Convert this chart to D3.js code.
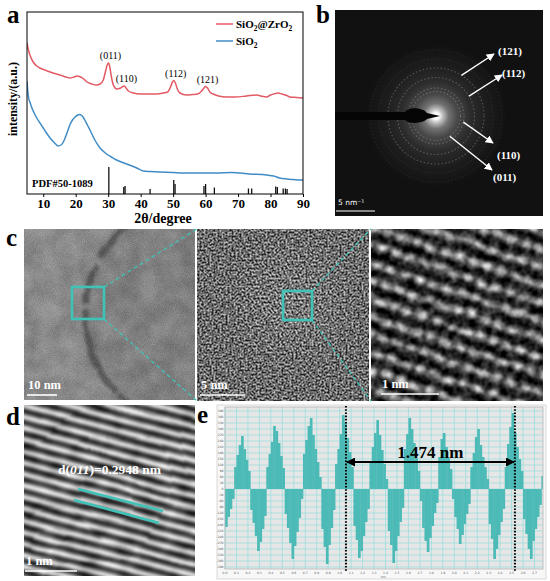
<!DOCTYPE html>
<html>
<head>
<meta charset="utf-8">
<script src="https://cdn.jsdelivr.net/npm/d3@7"></script>
<style>
  body { margin: 0; background: #fff; }
  svg { display: block; }
</style>
</head>
<body>
<svg id="fig" width="550" height="581"></svg>
<script>
// ---------- data: panel a (XRD patterns) ----------
const twoThetaZr = [5.0, 5.3, 5.9, 6.9, 8.0, 9.0, 10.5, 12.1, 13.5, 15.2, 17.0, 18.2, 19.5, 20.5, 21.5,
  22.5, 23.5, 25.0, 26.4, 27.5, 28.5, 29.2, 29.7, 30.1, 30.5, 31.0, 31.6, 32.6, 33.8, 34.5,
  35.0, 35.5, 36.2, 37.7, 40.0, 42.8, 45.0, 47.0, 48.3, 49.2, 49.8, 50.2, 50.7, 51.3, 52.1,
  54.1, 56.0, 57.5, 58.8, 59.5, 60.0, 60.6, 61.3, 62.3, 64.0, 66.4, 69.0, 72.6, 75.7, 77.0,
  78.8, 80.0, 81.0, 82.3, 83.5, 85.0, 86.0, 88.0, 90.0];
const intensityZr = [151, 146, 139, 132, 128, 126, 124, 122, 120.5, 119, 117, 116, 117, 118, 117,
  115, 112, 110, 109, 110, 114, 123, 129, 131, 127, 117, 109, 105, 106, 107.5,
  108, 106, 103, 101, 100, 100, 100, 101, 102, 107, 112, 113.5, 111, 105, 101,
  99, 99.5, 100, 103, 106, 107.5, 106, 102, 100, 98, 97, 97, 98, 99, 98,
  97, 99, 100, 101, 100, 98.5, 97, 96.5, 96];
const twoThetaSi = [5.0, 5.2, 5.5, 6.0, 6.4, 7.2, 8.0, 9.0, 10.0, 11.0, 12.1, 13.5, 14.6, 15.5, 16.2,
  17.2, 18.2, 19.0, 19.8, 20.6, 21.3, 22.0, 22.8, 23.6, 24.4, 25.9, 27.5, 29.5, 31.0, 32.6,
  35.7, 38.8, 40.8, 43.0, 45.9, 50.0, 53.1, 58.0, 63.4, 68.0, 73.6, 78.8, 81.0, 82.8, 85.0,
  87.0, 89.5, 90.0];
const intensitySi = [113, 104, 96, 91, 87, 81, 76, 71, 66, 61, 56, 51, 48, 49, 52,
  60, 69, 74, 77, 79, 79.5, 78, 74, 69, 64, 54, 46, 40, 37, 34,
  30, 26, 23, 22.5, 22, 21.5, 21, 21, 21, 21.5, 20, 19, 18, 16, 15,
  14.5, 14, 14];
const pdfTwoTheta = [30.2, 34.8, 35.2, 42.9, 50.2, 50.6, 59.5, 60.0, 62.7, 73.2, 74.2, 81.6, 82.1, 83.9, 84.6, 85.1];
const pdfIntensity = [27, 7, 8, 5, 14, 10, 8, 10, 6.5, 5.5, 5.5, 7.5, 7, 5.5, 5.5, 5];
const peakNames = ["(011)", "(110)", "(112)", "(121)"];
const peakTwoTheta = [30.1, 35.0, 50.2, 60.0];
const xTicksA = [10, 20, 30, 40, 50, 60, 70, 80, 90];
const seriesNames = ["SiO2@ZrO2", "SiO2"];
const seriesColors = ["#e35a65", "#3f8cc6"];

// ---------- data: panel b (SAED rings) ----------
const ringNames = ["(121)", "(112)", "(110)", "(011)"];
const ringRadius = [48, 38.5, 28, 24.5];
const faintRings = [57, 66];

// ---------- data: panel e (line profile) ----------
const profileStep = 0.02; // nm between samples
const profile = [
  -38, -28, -20, -10,
  22, 34, 44, 53, 40, 29, 18,
  -21, -34, -47, -62, -53, -40, -27,
  22, 35, 47, 63, 58, 46, 33, 21,
  -25, -39, -54, -70, -57, -43, -29, -10,
  35, 49, 63, 71, 54, 40, 27, 12,
  -40, -58, -75, -56, -39, -21,
  25, 40, 55, 74, 66, 51, 37, 22,
  -37, -51, -69, -62, -47, -33, -20,
  28, 42, 56, 69, 54, 39, 25, 10,
  -42, -56, -74, -62, -47, -33, -19,
  40, 55, 71, 60, 46, 31, 18, -12,
  -39, -52, -63, -49, -37, -24, -14,
  32, 50, 56, 42, 31, 20, -10,
  -28, -40, -55, -46, -35, -25, -15,
  22, 36, 52, 60, 44, 32, 22, 10,
  -35, -50, -70, -60, -46, -33, -20,
  22, 45, 62, 76, 56, 42, 30, 18,
  -30, -45, -60, -70, -52, -40, -28, -16,
  13];
const spacingFrom = 1.055; // nm
const spacingTo = 2.529;   // nm
const spacingLabel = "1.474 nm";

// ---------- setup ----------
const serif = "'Liberation Serif', 'Times New Roman', serif";
const svg = d3.select("#fig");
const defs = svg.append("defs");
svg.append("rect").attr("width", 550).attr("height", 581).attr("fill", "#fff");

function clipRect(id, x, y, w, h) {
  defs.append("clipPath").attr("id", id).append("rect")
    .attr("x", x).attr("y", y).attr("width", w).attr("height", h);
  return `url(#${id})`;
}
function grey(gain, bias) {
  return `${gain} 0 0 0 ${bias} ${gain} 0 0 0 ${bias} ${gain} 0 0 0 ${bias} 0 0 0 0 1`;
}
// all filters work in sRGB so grey arithmetic behaves
function newFilter(id, box) {
  const f = defs.append("filter").attr("id", id).attr("color-interpolation-filters", "sRGB");
  if (box) f.attr("x", box[0]).attr("y", box[1]).attr("width", box[2]).attr("height", box[3]);
  return f;
}
function noiseFilter(id, freq, oct, seed, gain, bias) {
  const f = newFilter(id, [0, 0, 1, 1]);
  f.append("feTurbulence").attr("type", "fractalNoise").attr("baseFrequency", freq)
    .attr("numOctaves", oct).attr("seed", seed).attr("result", "t");
  f.append("feColorMatrix").attr("in", "t").attr("type", "matrix").attr("values", grey(gain, bias));
}
function roughFilter(id, scale, blur) {
  const f = newFilter(id, ["-20%", "-20%", "140%", "140%"]);
  f.append("feTurbulence").attr("type", "fractalNoise").attr("baseFrequency", 0.07)
    .attr("numOctaves", 2).attr("seed", 4).attr("result", "n");
  f.append("feDisplacementMap").attr("in", "SourceGraphic").attr("in2", "n").attr("scale", scale)
    .attr("xChannelSelector", "R").attr("yChannelSelector", "G").attr("result", "d");
  f.append("feGaussianBlur").attr("in", "d").attr("stdDeviation", blur);
}
function arrowMarker(id, color, size) {
  defs.append("marker").attr("id", id).attr("viewBox", "0 0 10 10")
    .attr("refX", 9).attr("refY", 5)
    .attr("markerWidth", size).attr("markerHeight", size)
    .attr("markerUnits", "userSpaceOnUse").attr("orient", "auto-start-reverse")
    .append("path").attr("d", "M0,0 L10,5 L0,10 z").attr("fill", color);
}
function panelLetter(ch, x, y) {
  svg.append("text").attr("x", x).attr("y", y)
    .attr("font-family", serif).attr("font-size", 25).attr("font-weight", "bold")
    .text(ch);
}
function scaleBar(x, y, len, label) {
  svg.append("text").attr("x", x + 1).attr("y", y - 6)
    .attr("font-family", serif).attr("font-size", 12.5).attr("font-weight", "bold")
    .attr("fill", "#fff").text(label);
  svg.append("line").attr("x1", x).attr("x2", x + len).attr("y1", y).attr("y2", y)
    .attr("stroke", "#fff").attr("stroke-width", 1.6);
}
// writes a formula with digit subscripts
function chem(sel, str, size) {
  let down = false;
  str.split(/(\d)/).filter(s => s.length).forEach(part => {
    const isSub = /^\d$/.test(part);
    const t = sel.append("tspan").text(part);
    if (isSub) { t.attr("font-size", size * 0.68).attr("dy", down ? 0 : size * 0.25); down = true; }
    else { if (down) t.attr("dy", -size * 0.25); down = false; }
  });
}

arrowMarker("arrW", "#fff", 8);
arrowMarker("arrK", "#000", 9);

// --- PANEL A: XRD ---
const A = { left: 27, right: 303, top: 12, bottom: 194 };
const xA = d3.scaleLinear().domain([5, 90]).range([A.left, A.right]);
const yA = d3.scaleLinear().domain([0, 182]).range([A.bottom, A.top]);
const gA = svg.append("g");
const lineA = d3.line().x(d => xA(d[0])).y(d => yA(d[1])).curve(d3.curveMonotoneX);
const seriesA = [d3.zip(twoThetaZr, intensityZr), d3.zip(twoThetaSi, intensitySi)];

gA.append("g").attr("clip-path", clipRect("clipA", A.left, A.top, A.right - A.left, A.bottom - A.top))
  .selectAll("path").data(seriesA).join("path")
  .attr("d", lineA).attr("fill", "none")
  .attr("stroke", (d, i) => seriesColors[i]).attr("stroke-width", 1.5);

gA.append("g").selectAll("line").data(d3.zip(pdfTwoTheta, pdfIntensity)).join("line")
  .attr("x1", d => xA(d[0])).attr("x2", d => xA(d[0]))
  .attr("y1", yA(0)).attr("y2", d => yA(d[1]))
  .attr("stroke", "#111").attr("stroke-width", 1.3);

gA.append("rect").attr("x", A.left).attr("y", A.top)
  .attr("width", A.right - A.left).attr("height", A.bottom - A.top)
  .attr("fill", "none").attr("stroke", "#000").attr("stroke-width", 1);

gA.append("g").attr("transform", `translate(0,${A.bottom})`)
  .call(d3.axisBottom(xA).tickValues(xTicksA).tickSize(3).tickPadding(2))
  .attr("font-family", serif).attr("font-size", 13).attr("font-weight", "bold")
  .call(g => g.select(".domain").remove())
  .call(g => g.selectAll("line").attr("stroke", "#000"))
  .call(g => g.selectAll("text").attr("fill", "#000"));

gA.append("text").attr("x", 163).attr("y", 223).attr("text-anchor", "middle")
  .attr("font-family", serif).attr("font-size", 14).attr("font-weight", "bold")
  .text("2θ/degree");
gA.append("text").attr("transform", "translate(17,99) rotate(-90)").attr("text-anchor", "middle")
  .attr("font-family", serif).attr("font-size", 12).attr("font-weight", "bold")
  .text("intensity/(a.u.)");

// peak labels sit just above the local maximum of the red pattern
peakNames.forEach((name, i) => {
  const near = seriesA[0].filter(d => Math.abs(d[0] - peakTwoTheta[i]) < 1);
  const top = d3.max(near, d => d[1]);
  gA.append("text").attr("x", xA(peakTwoTheta[i]) + 2).attr("y", yA(top) - 4)
    .attr("text-anchor", "middle").attr("font-family", serif).attr("font-size", 10)
    .text(name);
});

gA.append("text").attr("x", 32).attr("y", 187)
  .attr("font-family", serif).attr("font-size", 10.5).attr("font-weight", "bold")
  .text("PDF#50-1089");

seriesNames.forEach((name, i) => {
  const y = 24 + i * 17;
  gA.append("line").attr("x1", 216).attr("x2", 233).attr("y1", y).attr("y2", y)
    .attr("stroke", seriesColors[i]).attr("stroke-width", 1.5);
  const t = gA.append("text").attr("x", 236).attr("y", y + 4)
    .attr("font-family", serif).attr("font-size", 11).attr("font-weight", "bold");
  chem(t, name, 11);
});
panelLetter("a", 7, 23);

// --- PANEL B: SAED pattern ---
const B = { x: 335, y: 10, w: 208, h: 206, cx: 436, cy: 116 };
const glow = defs.append("radialGradient").attr("id", "glow").attr("gradientUnits", "userSpaceOnUse")
  .attr("cx", B.cx).attr("cy", B.cy).attr("r", 70);
[[0, "#ffffff"], [0.05, "#f6f6f6"], [0.1, "#bdbdbd"], [0.18, "#747474"], [0.3, "#4a4a4a"],
 [0.5, "#2c2c2c"], [0.75, "#1c1c1c"], [1, "#121212"]]
  .forEach(s => glow.append("stop").attr("offset", s[0]).attr("stop-color", s[1]));
const gB = svg.append("g").attr("clip-path", clipRect("clipB", B.x, B.y, B.w, B.h));
gB.append("rect").attr("x", B.x).attr("y", B.y).attr("width", B.w).attr("height", B.h).attr("fill", "#111");
gB.append("circle").attr("cx", B.cx).attr("cy", B.cy).attr("r", 70).attr("fill", "url(#glow)");
gB.selectAll("circle.ring").data(ringRadius.concat(faintRings)).join("circle").attr("class", "ring")
  .attr("cx", B.cx).attr("cy", B.cy).attr("r", d => d)
  .attr("fill", "none").attr("stroke", "#a8a8a8")
  .attr("stroke-opacity", (d, i) => i < ringRadius.length ? 0.42 : 0.12)
  .attr("stroke-width", 1.1).attr("stroke-dasharray", "1.4 2.2");
// beam stopper
gB.append("path")
  .attr("d", `M${B.x - 2},${B.cy - 4} L${B.cx - 31},${B.cy - 4}
    C${B.cx - 28},${B.cy - 9} ${B.cx - 14},${B.cy - 9} ${B.cx - 9},${B.cy - 3}
    L${B.cx + 4},${B.cy} L${B.cx - 9},${B.cy + 3}
    C${B.cx - 14},${B.cy + 8} ${B.cx - 28},${B.cy + 8} ${B.cx - 31},${B.cy + 4}
    L${B.x - 2},${B.cy + 4} Z`)
  .attr("fill", "#050505");

// arrows start on their ring; [angle on ring (deg), end x, end y, label x, label y]
const sadArrows = [[-58, 494, 54, 498, 55], [-31, 502, 75, 502, 77], [12.5, 493, 143, 497, 159], [55.6, 492, 170, 493, 181]];
ringNames.forEach((name, i) => {
  const [ang, ex, ey, lx, ly] = sadArrows[i];
  const a = ang * Math.PI / 180;
  svg.append("line")
    .attr("x1", B.cx + ringRadius[i] * Math.cos(a)).attr("y1", B.cy + ringRadius[i] * Math.sin(a))
    .attr("x2", ex).attr("y2", ey)
    .attr("stroke", "#fff").attr("stroke-width", 1.4).attr("marker-end", "url(#arrW)");
  svg.append("text").attr("x", lx).attr("y", ly)
    .attr("font-family", serif).attr("font-size", 11).attr("font-weight", "bold")
    .attr("fill", "#fff").text(name);
});
svg.append("text").attr("x", 338).attr("y", 205)
  .attr("font-family", "'DejaVu Sans', sans-serif").attr("font-size", 7.5).attr("fill", "#fff")
  .text("5 nm⁻¹");
svg.append("line").attr("x1", 336).attr("x2", 375).attr("y1", 211).attr("y2", 211)
  .attr("stroke", "#fff").attr("stroke-width", 1.2);
panelLetter("b", 316, 23);

// --- PANEL C: TEM / HRTEM images ---
noiseFilter("fineNoise", 1.1, 1, 3, 1.6, -0.3);
noiseFilter("mottle", 0.05, 3, 8, 1.6, -0.3);
roughFilter("rough", 12, 2.2);
roughFilter("edge", 6, 1.6);

const C1 = { x: 24, y: 229, s: 171 }, C2 = { x: 197, y: 229, s: 172 }, C3 = { x: 371, y: 229, s: 172 };

// image 1: particle edge
const g1 = svg.append("g").attr("clip-path", clipRect("clipC1", C1.x, C1.y, C1.s, C1.s));
g1.append("rect").attr("x", C1.x).attr("y", C1.y).attr("width", C1.s).attr("height", C1.s).attr("fill", "#8e8e8e");
g1.append("circle").attr("cx", 196).attr("cy", 314).attr("r", 114).attr("fill", "#818181")
  .attr("filter", "url(#rough)");
g1.append("rect").attr("x", C1.x).attr("y", C1.y).attr("width", C1.s).attr("height", C1.s)
  .attr("filter", "url(#mottle)").attr("opacity", 0.12);
g1.append("circle").attr("cx", 197).attr("cy", 314).attr("r", 112).attr("fill", "none")
  .attr("stroke", "#404040").attr("stroke-width", 6).attr("stroke-dasharray", "90 5 40 8 120 4")
  .attr("opacity", 0.7).attr("filter", "url(#edge)");
g1.append("rect").attr("x", C1.x).attr("y", C1.y).attr("width", C1.s).attr("height", C1.s)
  .attr("filter", "url(#fineNoise)").attr("opacity", 0.12);

// image 2: lattice with speckle
const hr2 = newFilter("hr2", [0, 0, 1, 1]);
hr2.append("feTurbulence").attr("type", "fractalNoise").attr("baseFrequency", 0.5)
  .attr("numOctaves", 2).attr("seed", 11).attr("result", "t");
hr2.append("feColorMatrix").attr("in", "t").attr("type", "matrix").attr("values", grey(2.4, -0.7)).attr("result", "g");
hr2.append("feGaussianBlur").attr("in", "g").attr("stdDeviation", 0.4).attr("result", "gb");
hr2.append("feComposite").attr("in", "SourceGraphic").attr("in2", "gb").attr("operator", "arithmetic")
  .attr("k1", 0).attr("k2", 0.7).attr("k3", 0.6).attr("k4", -0.12);
const lat = defs.append("pattern").attr("id", "lattice2").attr("patternUnits", "userSpaceOnUse")
  .attr("width", 3.8).attr("height", 3.8).attr("patternTransform", "rotate(62)");
lat.append("rect").attr("width", 3.8).attr("height", 3.8).attr("fill", "#3c3c3c");
lat.append("rect").attr("width", 3.8).attr("height", 1.7).attr("fill", "#bdbdbd");
const fade = defs.append("radialGradient").attr("id", "fade2").attr("gradientUnits", "userSpaceOnUse")
  .attr("cx", 292).attr("cy", 300).attr("r", 70);
[[0, "#fff"], [0.5, "#999"], [1, "#000"]].forEach(s => fade.append("stop").attr("offset", s[0]).attr("stop-color", s[1]));
defs.append("mask").attr("id", "mask2").append("rect")
  .attr("x", C2.x).attr("y", C2.y).attr("width", C2.s).attr("height", C2.s).attr("fill", "url(#fade2)");
const g2 = svg.append("g").attr("clip-path", clipRect("clipC2", C2.x, C2.y, C2.s, C2.s))
  .append("g").attr("filter", "url(#hr2)");
g2.append("rect").attr("x", C2.x).attr("y", C2.y).attr("width", C2.s).attr("height", C2.s).attr("fill", "#575757");
g2.append("rect").attr("x", C2.x).attr("y", C2.y).attr("width", C2.s).attr("height", C2.s)
  .attr("fill", "url(#lattice2)").attr("mask", "url(#mask2)").attr("opacity", 0.6);

// image 3: atomic columns
const blobs = defs.append("pattern").attr("id", "blobs").attr("patternUnits", "userSpaceOnUse")
  .attr("width", 15).attr("height", 17).attr("patternTransform", "rotate(19)");
blobs.append("rect").attr("width", 15).attr("height", 17).attr("fill", "#161616");
blobs.append("rect").attr("y", 5).attr("width", 15).attr("height", 7).attr("fill", "#555");
blobs.append("ellipse").attr("cx", 7.5).attr("cy", 8.5).attr("rx", 5.5).attr("ry", 3.4).attr("fill", "#e6e6e6");
const hr3 = newFilter("hr3", [0, 0, 1, 1]);
hr3.append("feTurbulence").attr("type", "fractalNoise").attr("baseFrequency", 0.05)
  .attr("numOctaves", 2).attr("seed", 6).attr("result", "w");
hr3.append("feDisplacementMap").attr("in", "SourceGraphic").attr("in2", "w").attr("scale", 7)
  .attr("xChannelSelector", "R").attr("yChannelSelector", "G").attr("result", "d");
hr3.append("feGaussianBlur").attr("in", "d").attr("stdDeviation", 2.0).attr("result", "b");
hr3.append("feTurbulence").attr("type", "fractalNoise").attr("baseFrequency", 0.13)
  .attr("numOctaves", 2).attr("seed", 7).attr("result", "t");
hr3.append("feColorMatrix").attr("in", "t").attr("type", "matrix").attr("values", grey(1.5, -0.25)).attr("result", "g");
hr3.append("feComposite").attr("in", "b").attr("in2", "g").attr("operator", "arithmetic")
  .attr("k1", 0).attr("k2", 0.95).attr("k3", 0.4).attr("k4", -0.2);
svg.append("g").attr("clip-path", clipRect("clipC3", C3.x, C3.y, C3.s, C3.s))
  .append("rect").attr("x", C3.x - 10).attr("y", C3.y - 10).attr("width", C3.s + 20).attr("height", C3.s + 20)
  .attr("fill", "url(#blobs)").attr("filter", "url(#hr3)");

// zoom boxes and connectors
const cyan = "#3fc3b8";
[[72, 287, 32, C2], [283, 291, 29, C3]].forEach(([bx, by, bs, next]) => {
  svg.append("rect").attr("x", bx).attr("y", by).attr("width", bs).attr("height", bs)
    .attr("fill", "none").attr("stroke", cyan).attr("stroke-width", 2.6);
  [[by, next.y], [by + bs, next.y + next.s]].forEach(([y1, y2]) => {
    svg.append("line").attr("x1", bx + bs).attr("y1", y1).attr("x2", next.x).attr("y2", y2)
      .attr("stroke", cyan).attr("stroke-width", 1.3).attr("stroke-dasharray", "4 3");
  });
});
scaleBar(27, 395, 30, "10 nm");
scaleBar(200, 395, 45, "5 nm");
scaleBar(381, 394, 58, "1 nm");
panelLetter("c", 6, 246);

// --- PANEL D: inverse FFT fringes ---
const D = { x: 24, y: 405, s: 171 };
const fg = defs.append("linearGradient").attr("id", "fringeGrad").attr("x1", 0).attr("y1", 0).attr("x2", 0).attr("y2", 1);
[[0, "#8c8c8c"], [0.1, "#c4c4c4"], [0.22, "#ececec"], [0.34, "#c0c0c0"], [0.46, "#7c7c7c"],
 [0.6, "#333"], [0.72, "#1c1c1c"], [0.86, "#4e4e4e"], [1, "#8c8c8c"]]
  .forEach(s => fg.append("stop").attr("offset", s[0]).attr("stop-color", s[1]));
const fp = defs.append("pattern").attr("id", "fringes").attr("patternUnits", "userSpaceOnUse")
  .attr("width", 400).attr("height", 11).attr("patternTransform", "rotate(14.5)");
fp.append("rect").attr("width", 400).attr("height", 11).attr("fill", "url(#fringeGrad)");
const fr = newFilter("wavy", [0, 0, 1, 1]);
fr.append("feTurbulence").attr("type", "fractalNoise").attr("baseFrequency", 0.014)
  .attr("numOctaves", 1).attr("seed", 5).attr("result", "w");
fr.append("feDisplacementMap").attr("in", "SourceGraphic").attr("in2", "w").attr("scale", 7)
  .attr("xChannelSelector", "R").attr("yChannelSelector", "G").attr("result", "d");
fr.append("feGaussianBlur").attr("in", "d").attr("stdDeviation", 1.1).attr("result", "db");
fr.append("feTurbulence").attr("type", "fractalNoise").attr("baseFrequency", 0.05)
  .attr("numOctaves", 2).attr("seed", 9).attr("result", "t");
fr.append("feColorMatrix").attr("in", "t").attr("type", "matrix").attr("values", grey(1.2, -0.1)).attr("result", "g");
fr.append("feComposite").attr("in", "db").attr("in2", "g").attr("operator", "arithmetic")
  .attr("k1", 0).attr("k2", 1).attr("k3", 0.3).attr("k4", -0.15);
svg.append("g").attr("clip-path", clipRect("clipD", D.x, D.y, D.s, D.s))
  .append("rect").attr("x", D.x - 12).attr("y", D.y - 12).attr("width", D.s + 24).attr("height", D.s + 24)
  .attr("fill", "url(#fringes)").attr("filter", "url(#wavy)");
[[78, 489, 163, 511], [74, 500, 159, 523]].forEach(([x1, y1, x2, y2]) => {
  svg.append("line").attr("x1", x1).attr("y1", y1).attr("x2", x2).attr("y2", y2)
    .attr("stroke", cyan).attr("stroke-width", 2.6);
});
const dt = svg.append("text").attr("x", 58).attr("y", 474)
  .attr("font-family", serif).attr("font-size", 13.5).attr("font-weight", "bold").attr("fill", "#fff");
dt.append("tspan").text("d(");
dt.append("tspan").attr("font-style", "italic").text("011");
dt.append("tspan").text(")=0.2948 nm");
scaleBar(25, 571, 52, "1 nm");
panelLetter("d", 6, 425);

// --- PANEL E: line profile ---
const E = { left: 225, right: 543, top: 407, bottom: 569 };
const xE = d3.scaleLinear().domain([0, 2.774]).range([E.left, E.right]);
const yE = d3.scaleLinear().domain([-80, 82]).range([E.bottom, E.top]);
const gE = svg.append("g");
gE.append("rect").attr("x", 217).attr("y", 405).attr("width", 329).attr("height", 174)
  .attr("fill", "#f7f7f7").attr("stroke", "#d0d0d0").attr("stroke-width", 0.8);
gE.append("rect").attr("x", E.left).attr("y", E.top).attr("width", E.right - E.left).attr("height", E.bottom - E.top)
  .attr("fill", "#e6e6e6");

const yTicksE = d3.range(-78, 82, 6);
const xTicksE = d3.range(28).map(i => i / 10);
gE.append("g").selectAll("line").data(yTicksE).join("line")
  .attr("x1", E.left).attr("x2", E.right).attr("y1", d => yE(d)).attr("y2", d => yE(d))
  .attr("stroke", "#92dcdc").attr("stroke-width", 0.7);
gE.append("g").selectAll("line").data(xTicksE).join("line")
  .attr("x1", d => xE(d)).attr("x2", d => xE(d)).attr("y1", E.top).attr("y2", E.bottom)
  .attr("stroke", "#92dcdc").attr("stroke-width", 0.7);

const bw = xE(profileStep) - xE(0);
gE.append("g").attr("clip-path", clipRect("clipE", E.left, E.top, E.right - E.left, E.bottom - E.top))
  .selectAll("rect").data(profile).join("rect")
  .attr("x", (d, i) => xE(i * profileStep)).attr("width", bw + 0.4)
  .attr("y", d => yE(Math.max(d, 0))).attr("height", d => Math.abs(yE(d) - yE(0)))
  .attr("fill", "#4cbab6");

gE.append("rect").attr("x", E.left).attr("y", E.top).attr("width", E.right - E.left).attr("height", E.bottom - E.top)
  .attr("fill", "none").attr("stroke", "#b4b4b4").attr("stroke-width", 0.8);

gE.append("g").selectAll("text").data(yTicksE).join("text")
  .attr("x", E.left - 1.5).attr("y", d => yE(d) + 1).attr("text-anchor", "end")
  .attr("font-family", "'DejaVu Sans', sans-serif").attr("font-size", 3).attr("fill", "#555")
  .text(d => d * 5);
gE.append("g").selectAll("text").data(xTicksE).join("text")
  .attr("x", d => xE(d)).attr("y", E.bottom + 4.5).attr("text-anchor", "middle")
  .attr("font-family", "'DejaVu Sans', sans-serif").attr("font-size", 3).attr("fill", "#555")
  .text(d => d.toFixed(1));
gE.append("text").attr("x", xE(1.38)).attr("y", E.bottom + 8.5).attr("text-anchor", "middle")
  .attr("font-family", "'DejaVu Sans', sans-serif").attr("font-size", 3).attr("fill", "#555").text("nm");

[spacingFrom, spacingTo].forEach(v => {
  gE.append("line").attr("x1", xE(v)).attr("x2", xE(v)).attr("y1", E.top - 1).attr("y2", E.bottom + 2)
    .attr("stroke", "#000").attr("stroke-width", 2).attr("stroke-dasharray", "1.6 1.6");
});
gE.append("line").attr("x1", xE(spacingFrom) + 1).attr("x2", xE(spacingTo) - 1)
  .attr("y1", yE(27)).attr("y2", yE(27))
  .attr("stroke", "#000").attr("stroke-width", 2)
  .attr("marker-start", "url(#arrK)").attr("marker-end", "url(#arrK)");
gE.append("text").attr("x", (xE(spacingFrom) + xE(spacingTo)) / 2).attr("y", yE(31))
  .attr("text-anchor", "middle").attr("font-family", serif).attr("font-size", 17).attr("font-weight", "bold")
  .text(spacingLabel);
panelLetter("e", 197, 423);
</script>
</body>
</html>
